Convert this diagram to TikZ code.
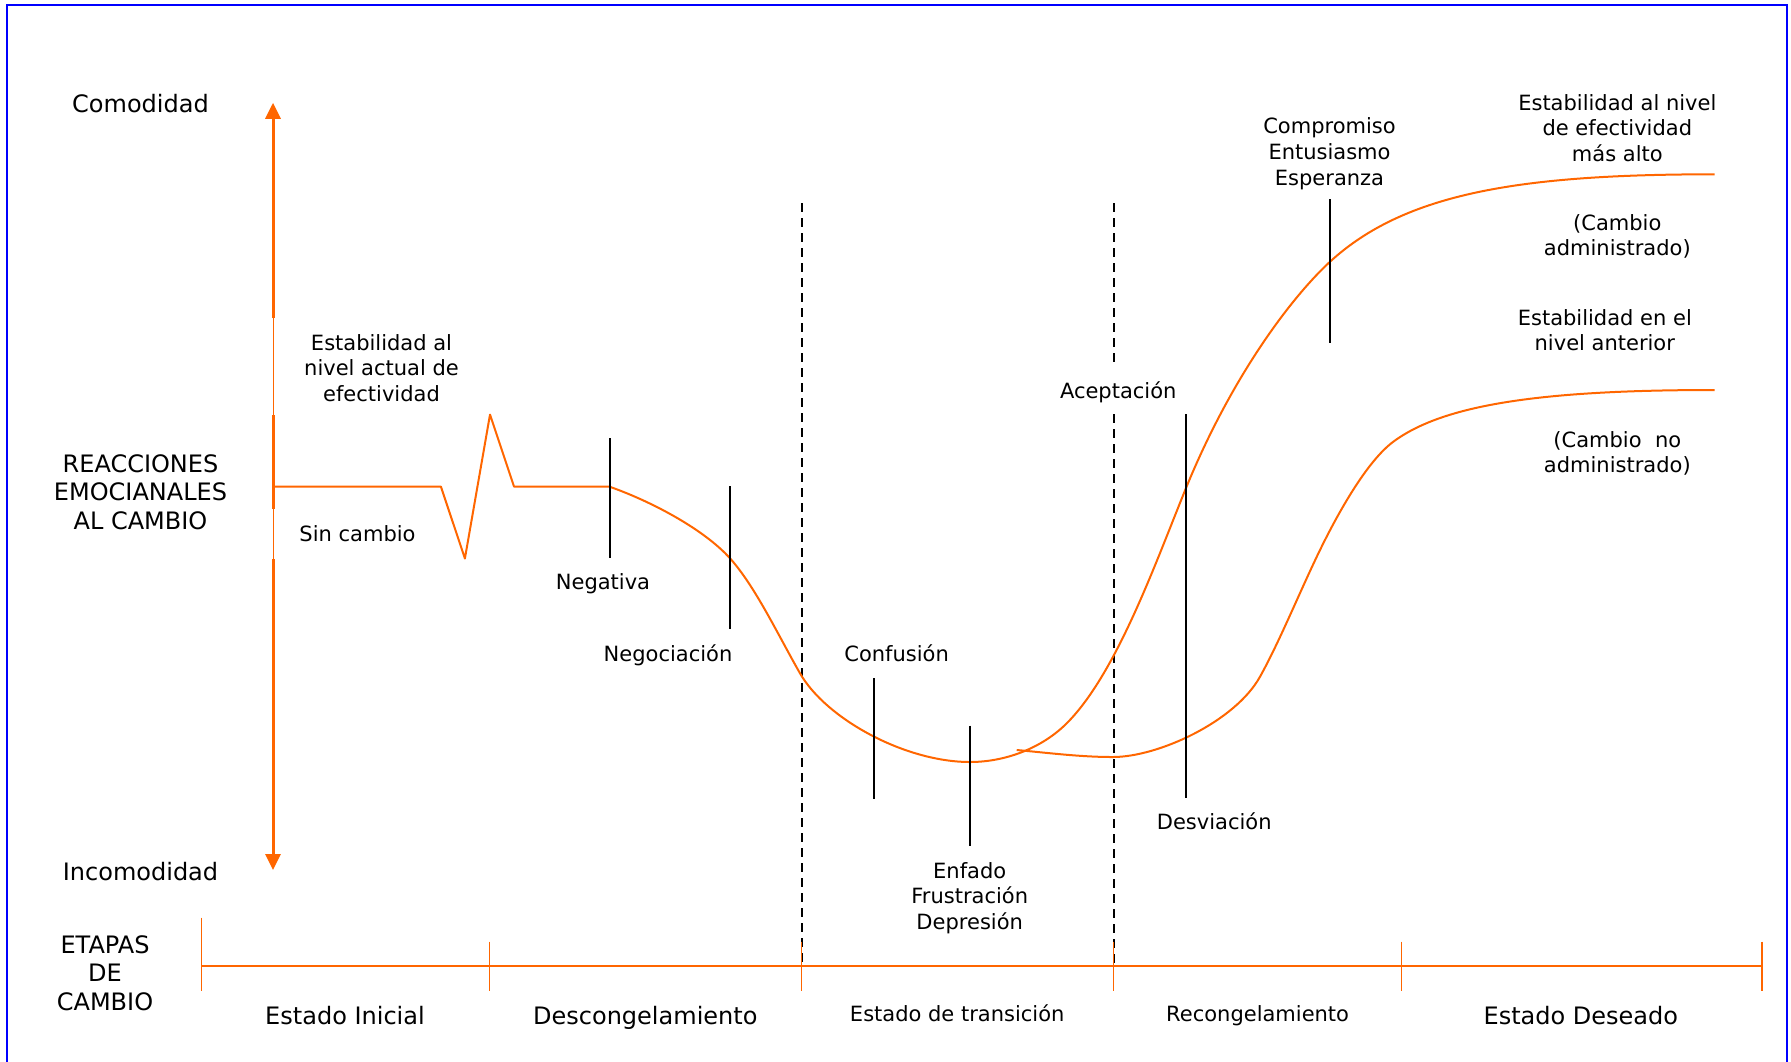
\documentclass[tikz,border=0pt]{standalone}
\usepackage{fontspec}
\setmainfont{DejaVu Sans}
\usetikzlibrary{arrows.meta}
\definecolor{orng}{RGB}{255,102,0}
\definecolor{bord}{RGB}{0,0,255}
\begin{document}
\begin{tikzpicture}[x=0.5pt,y=-0.5pt,
  lbl/.style={font=\fontsize{10.5}{12.85}\selectfont, align=center, inner sep=0pt},
  big/.style={font=\fontsize{12}{14.3}\selectfont, align=center, inner sep=0pt},
  curve/.style={draw=orng, line width=1pt, line join=round},
  ax/.style={draw=orng, line width=1.5pt},
  faint/.style={draw=orng, line width=0.4pt},
  tickl/.style={draw=black, line width=1pt},
  guide/.style={draw=black, line width=0.9pt, dash pattern=on 4.5pt off 3pt},
  stage/.style={draw=orng, line width=0.6pt},
  stageline/.style={draw=orng, line width=1.1pt},
]
\useasboundingbox (0,0) rectangle (1791,1061);
\draw[bord, line width=1pt] (7,1075) -- (7,5) -- (1787,5) -- (1787,1075);

% vertical axis
\coordinate (atop) at (273,102.8);
\coordinate (abot) at (273,870);
\coordinate (g1) at (273,318);
\coordinate (g2) at (273,415);
\coordinate (g3) at (273,509);
\coordinate (g4) at (273,559);
\draw[ax, -{Triangle[length=8pt,width=7.5pt]}] (g1) -- (atop);
\draw[faint] (g1) -- (g2);
\draw[ax] (g2) -- (g3);
\draw[faint] (g3) -- (g4);
\draw[ax, -{Triangle[length=8pt,width=7.5pt]}] (g4) -- (abot);

% dashed guides
\coordinate (d1t) at (801.7,203);
\coordinate (d1b) at (801.7,966);
\coordinate (d2t) at (1113.7,203);
\coordinate (d2m) at (1113.7,366);
\coordinate (d2n) at (1113.7,414);
\coordinate (d2b) at (1113.7,966);
\draw[guide] (d1t) -- (d1b);
\draw[guide] (d2t) -- (d2m);
\draw[guide] (d2n) -- (d2b);

% stages axis
\coordinate (s0) at (201.5,965.7);
\coordinate (s5) at (1762,965.7);
\draw[stageline] (s0) -- (s5);
\draw[stage] (201.5,917.7) -- (201.5,990.7);
\foreach \x in {489.5,801.8,1113.6,1401.6,1762} {\draw[stage] (\x,941.7) -- (\x,990.7);}

% managed change curve
\draw[curve] (273,486.6) -- (440.9,486.6) -- (464.9,558.5) -- (490,414.6) -- (514,486.6) -- (609.3,486.6)
  .. controls (649.3,500.6) and (703,528.3) .. (730,558.3)
  .. controls (755,586.1) and (778,634.8) .. (800,673.3)
  .. controls (826,718.8) and (905,762) .. (970,762)
  .. controls (1005,762) and (1041.7,748.3) .. (1066.7,723.3)
  .. controls (1116.7,673.3) and (1156,561.5) .. (1186,488)
  .. controls (1231,378) and (1290,298.7) .. (1330,261.7)
  .. controls (1405,193) and (1520,174.3) .. (1714.5,174.3);
% unmanaged change curve
\draw[curve] (1016.7,750)
  .. controls (1050,753) and (1080,757) .. (1113,757)
  .. controls (1158,757) and (1235,721.7) .. (1260,676.7)
  .. controls (1281,638.9) and (1302.3,585.3) .. (1323.3,543.3)
  .. controls (1341.3,507.3) and (1368.3,460.2) .. (1393.3,441.7)
  .. controls (1443.3,404.7) and (1540,390) .. (1714.5,390);

% ticks
\draw[tickl] (609.7,438) -- (609.7,557.7);
\draw[tickl] (729.6,486) -- (729.6,629.3);
\draw[tickl] (874,678.3) -- (874,799);
\draw[tickl] (970,725.7) -- (970,845.7);
\draw[tickl] (1185.7,414) -- (1185.7,798.3);
\draw[tickl] (1330,199.3) -- (1330,342.7);

% labels
\node[big] (comodidad) at (140.5,104) {Comodidad};
\node[big] (reacc) at (140.5,492) {REACCIONES\\EMOCIANALES\\AL CAMBIO};
\node[big] (incomod) at (140.5,871.5) {Incomodidad};
\node[big] (etapas) at (105,973) {ETAPAS\\DE\\CAMBIO};
\node[lbl] (estab) at (381.5,368) {Estabilidad al\\nivel actual de\\efectividad};
\node[lbl] (sincambio) at (357.5,533.4) {Sin cambio};
\node[lbl] (negativa) at (603,583.7) {Negativa};
\node[lbl] (negoc) at (668,655.6) {Negociación};
\node[lbl] (confusion) at (896.6,653.3) {Confusión};
\node[lbl] (enfado) at (969.7,898) {Enfado\\Frustración\\Depresión};
\node[lbl] (acept) at (1118.2,391.8) {Aceptación};
\node[lbl] (desv) at (1214.2,821.2) {Desviación};
\node[lbl] (compr) at (1329.5,153.6) {Compromiso\\Entusiasmo\\Esperanza};
\node[lbl] (estalto) at (1617.3,127.9) {Estabilidad al nivel\\de efectividad\\más alto};
\node[lbl] (cadm) at (1617.3,236.5) {(Cambio\\administrado)};
\node[lbl] (estant) at (1604.8,330.1) {Estabilidad en el\\nivel anterior};
\node[lbl] (cnoadm) at (1617.3,453.5) {(Cambio~~no\\administrado)};
\node[big] (e1) at (345,1015.4) {Estado Inicial};
\node[big] (e2) at (645.3,1017.7) {Descongelamiento};
\node[lbl] (e3) at (957.2,1013.1) {Estado de transición};
\node[lbl] (e4) at (1257.6,1015.4) {Recongelamiento};
\node[big] (e5) at (1580.8,1015.4) {Estado Deseado};
\end{tikzpicture}
\end{document}
